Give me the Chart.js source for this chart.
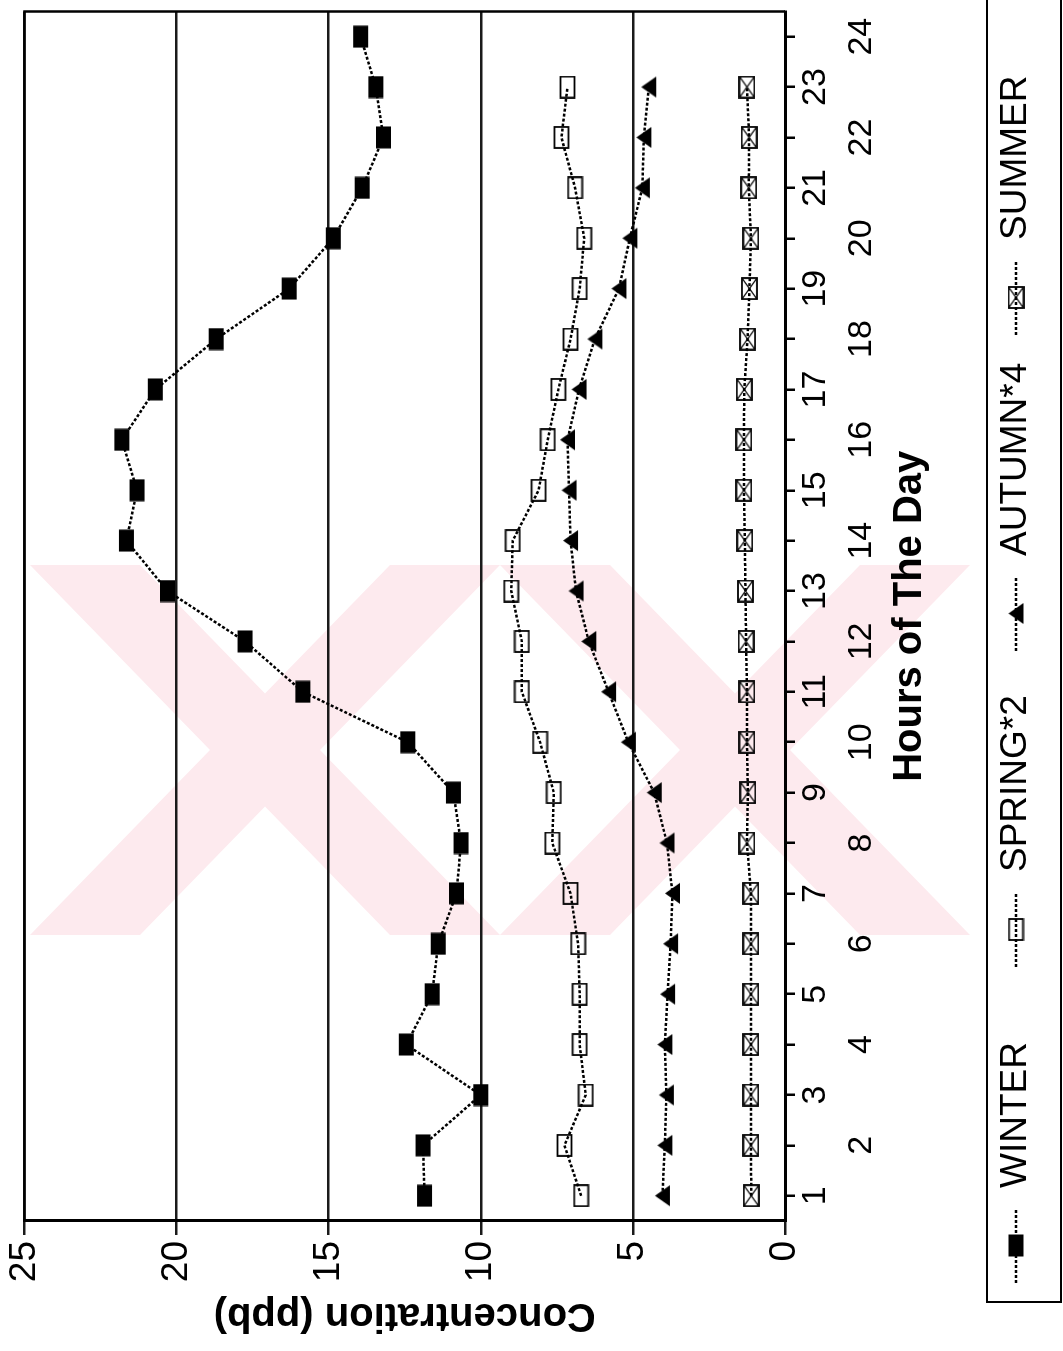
<!DOCTYPE html>
<html>
<head>
<meta charset="utf-8">
<script src="https://cdn.jsdelivr.net/npm/chart.js@4.4.1/dist/chart.umd.min.js"></script>
<style>
  html, body { margin: 0; padding: 0; background: #fff; width: 1063px; height: 1351px; overflow: hidden; }
  /* the chart is laid out landscape and turned a quarter turn counter-clockwise onto the portrait page */
  #sheet { position: absolute; left: 0; top: 0; width: 1351px; height: 1063px;
           transform-origin: 0 0; transform: translate(0px, 1351px) rotate(-90deg); }
  canvas { display: block; }
</style>
</head>
<body>
<div id="sheet"><canvas id="chart" width="1351" height="1063"></canvas></div>
<script>
// Hourly mean concentrations (ppb); spring, autumn values are plotted scaled as named
const hours = ['1','2','3','4','5','6','7','8','9','10','11','12','13','14','15','16','17','18','19','20','21','22','23','24'];
const winter = [11.85, 11.9, 10.0, 12.45, 11.6, 11.4, 10.8, 10.65, 10.9, 12.4, 15.85, 17.75, 20.3, 21.65, 21.3, 21.8, 20.7, 18.7, 16.3, 14.85, 13.9, 13.2, 13.45, 13.95];
const spring2 = [6.7, 7.25, 6.55, 6.75, 6.75, 6.8, 7.05, 7.65, 7.6, 8.05, 8.65, 8.65, 9.0, 8.95, 8.1, 7.8, 7.45, 7.05, 6.75, 6.6, 6.9, 7.35, 7.15];
const autumn4 = [4.03, 3.95, 3.9, 3.95, 3.86, 3.76, 3.7, 3.88, 4.3, 5.15, 5.8, 6.45, 6.87, 7.05, 7.1, 7.15, 6.77, 6.25, 5.46, 5.1, 4.69, 4.64, 4.48];
const summer = [1.11, 1.12, 1.12, 1.12, 1.12, 1.12, 1.12, 1.25, 1.22, 1.25, 1.25, 1.28, 1.3, 1.32, 1.35, 1.35, 1.34, 1.23, 1.17, 1.12, 1.19, 1.18, 1.25];
const seriesNames = ['WINTER', 'SPRING*2', 'AUTUMN*4', 'SUMMER'];
const valueTicks = [0, 5, 10, 15, 20, 25];

const FONT = "'Liberation Sans', Arial, Helvetica, sans-serif";

// marker glyphs, drawn once and reused by the chart and the legend
function marker(kind) {
  const c = document.createElement('canvas');
  c.width = 23; c.height = 17;
  const g = c.getContext('2d');
  g.strokeStyle = '#000'; g.fillStyle = '#000'; g.lineWidth = 1.8;
  if (kind === 'filled') {
    g.fillRect(0.5, 1, 22, 15);
  } else if (kind === 'open') {
    g.strokeRect(1, 1.5, 21, 14);
  } else if (kind === 'triangle') {
    g.beginPath(); g.moveTo(11.5, 1); g.lineTo(22, 16); g.lineTo(1, 16); g.closePath(); g.fill();
  } else if (kind === 'crossed') {
    g.strokeRect(1, 1, 21, 15);
    g.lineWidth = 1.2;
    g.beginPath(); g.moveTo(1, 1); g.lineTo(22, 16); g.moveTo(22, 1); g.lineTo(1, 16); g.stroke();
  }
  return c;
}
const markers = [marker('filled'), marker('open'), marker('triangle'), marker('crossed')];

function series(label, data, glyph) {
  return {
    label, data,
    borderColor: '#000', borderWidth: 2.5, borderDash: [3, 2],
    backgroundColor: '#000', fill: false, tension: 0,
    pointStyle: glyph, pointRadius: 9, pointHoverRadius: 9
  };
}

// faint watermark bands behind the plot
const watermark = {
  id: 'watermark',
  beforeDraw(chart) {
    const ctx = chart.ctx;
    const bands = [
      [[416, 30], [416, 140], [786, 500], [786, 390]],
      [[786, 30], [786, 140], [416, 500], [416, 390]],
      [[416, 500], [416, 610], [786, 970], [786, 860]],
      [[786, 500], [786, 610], [416, 970], [416, 860]]
    ];
    ctx.save();
    ctx.fillStyle = '#fdeaee';
    bands.forEach(p => {
      ctx.beginPath();
      ctx.moveTo(p[0][0], p[0][1]);
      for (let i = 1; i < p.length; i++) ctx.lineTo(p[i][0], p[i][1]);
      ctx.closePath(); ctx.fill();
    });
    ctx.restore();
  }
};

// closes the plot frame on the far side
const frame = {
  id: 'frame',
  beforeDatasetsDraw(chart) {
    const { ctx, chartArea: a } = chart;
    ctx.save();
    ctx.strokeStyle = '#000'; ctx.lineWidth = 2.5;
    ctx.beginPath();
    ctx.moveTo(a.left, a.top); ctx.lineTo(a.right, a.top); ctx.lineTo(a.right, a.bottom);
    ctx.stroke();
    ctx.restore();
  }
};

// boxed legend with evenly spaced entries: dotted line, marker, name
const seasonLegend = {
  id: 'seasonLegend',
  afterDraw(chart) {
    const ctx = chart.ctx;
    const rowY = 1016, first = 68, step = 316, lineLen = 75;
    ctx.save();
    ctx.strokeStyle = '#000'; ctx.lineWidth = 2;
    ctx.strokeRect(49, 987, 1400, 74);
    chart.data.datasets.forEach((ds, i) => {
      const x0 = first + i * step;
      ctx.setLineDash([3, 2]); ctx.lineWidth = 2.5;
      ctx.beginPath(); ctx.moveTo(x0, rowY); ctx.lineTo(x0 + lineLen, rowY); ctx.stroke();
      ctx.setLineDash([]);
      const m = ds.pointStyle;
      ctx.drawImage(m, x0 + lineLen / 2 - m.width / 2, rowY - m.height / 2);
      ctx.fillStyle = '#000';
      ctx.font = '37px ' + FONT;
      ctx.textBaseline = 'middle'; ctx.textAlign = 'left';
      ctx.fillText(ds.label, x0 + 95, rowY);
    });
    ctx.restore();
  }
};

new Chart(document.getElementById('chart'), {
  type: 'line',
  data: {
    labels: hours,
    datasets: [
      series(seriesNames[0], winter, markers[0]),
      series(seriesNames[1], spring2, markers[1]),
      series(seriesNames[2], autumn4, markers[2]),
      series(seriesNames[3], summer, markers[3])
    ]
  },
  options: {
    responsive: false,
    animation: false,
    layout: { padding: { left: 0, top: 21, right: 10, bottom: 118 } },
    plugins: { legend: { display: false }, tooltip: { enabled: false } },
    scales: {
      x: {
        type: 'category',
        offset: true,
        ticks: {
          autoSkip: false, maxRotation: 0, minRotation: 0, padding: -2, color: '#000',
          font: { family: FONT, size: 34, lineHeight: '46px' },
          // every second hour sits on a lower row
          callback: function (value, index) {
            const lab = hours[index];
            return index % 2 === 1 ? ['', lab] : lab;
          }
        },
        grid: { drawOnChartArea: false, drawTicks: true, tickLength: 10, color: '#000', lineWidth: 2.5 },
        border: { display: true, color: '#000', width: 3 },
        title: {
          display: true, text: 'Hours of The Day', color: '#000',
          font: { family: FONT, size: 40, weight: 'bold', lineHeight: 1.2 },
          padding: { top: 0, bottom: 11 }
        },
        afterFit(scale) { scale.height = 160; }
      },
      y: {
        type: 'linear', min: 0, max: 25,
        afterBuildTicks(scale) { scale.ticks = valueTicks.map(v => ({ value: v })); },
        ticks: { padding: 6, color: '#000', font: { family: FONT, size: 37, lineHeight: 1.0 } },
        grid: { color: '#1a1a1a', lineWidth: 2.5, drawTicks: true, tickLength: 14 },
        border: { display: true, color: '#000', width: 3 },
        title: {
          display: true, text: 'Concentration (ppb)', color: '#000',
          font: { family: FONT, size: 40, weight: 'bold', lineHeight: 1.2 },
          padding: { top: 12, bottom: 0 }
        },
        afterFit(scale) { scale.width = 130; }
      }
    }
  },
  plugins: [watermark, frame, seasonLegend]
});
</script>
</body>
</html>
